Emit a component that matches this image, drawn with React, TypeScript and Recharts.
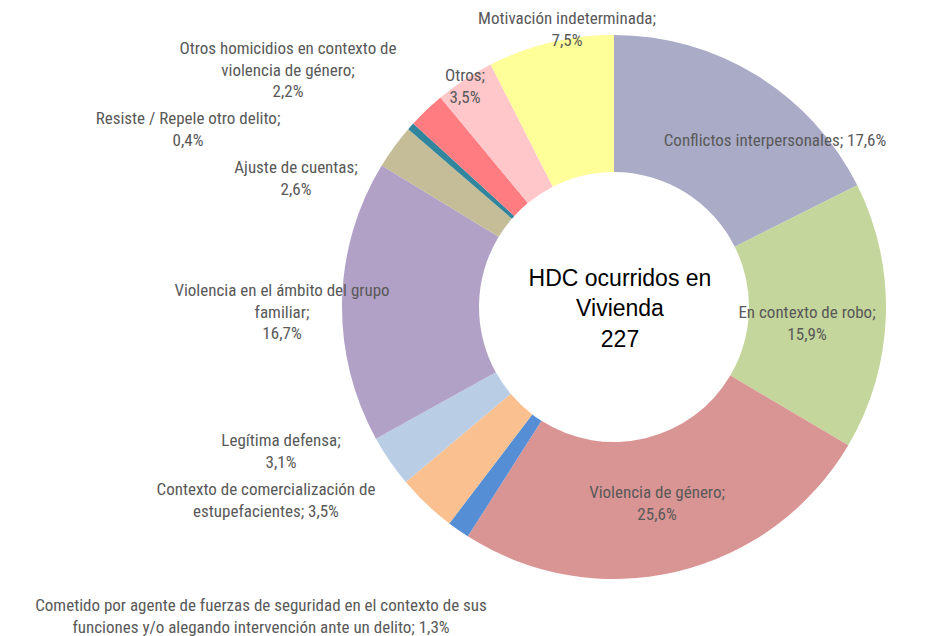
import { PieChart, Pie, Cell } from "recharts";

// HDC ocurridos en vivienda, por motivación (n = 227)
const categories = [
  "Conflictos interpersonales",
  "En contexto de robo",
  "Violencia de género",
  "Cometido por agente de fuerzas de seguridad en el contexto de sus funciones y/o alegando intervención ante un delito",
  "Contexto de comercialización de estupefacientes",
  "Legítima defensa",
  "Violencia en el ámbito del grupo familiar",
  "Ajuste de cuentas",
  "Resiste / Repele otro delito",
  "Otros homicidios en contexto de violencia de género",
  "Otros",
  "Motivación indeterminada",
];
const counts = [40, 36, 58, 3, 8, 7, 38, 6, 1, 5, 8, 17];
const percentLabels = ["17,6%", "15,9%", "25,6%", "1,3%", "3,5%", "3,1%", "16,7%", "2,6%", "0,4%", "2,2%", "3,5%", "7,5%"];
const total = 227;

// how each label wraps (last line carries the percentage)
const labelLines = [
  ["Conflictos interpersonales; 17,6%"],
  ["En contexto de robo;", "15,9%"],
  ["Violencia de género;", "25,6%"],
  ["Cometido por agente de fuerzas de seguridad en el contexto de sus", "funciones y/o alegando intervención ante un delito; 1,3%"],
  ["Contexto de comercialización de", "estupefacientes; 3,5%"],
  ["Legítima defensa;", "3,1%"],
  ["Violencia en el ámbito del grupo", "familiar;", "16,7%"],
  ["Ajuste de cuentas;", "2,6%"],
  ["Resiste / Repele otro delito;", "0,4%"],
  ["Otros homicidios en contexto de", "violencia de género;", "2,2%"],
  ["Otros;", "3,5%"],
  ["Motivación indeterminada;", "7,5%"],
];

const colors = [
  "#A9ABC7", "#C4D69B", "#D99594", "#558ED5", "#FAC08F", "#B9CDE5",
  "#B2A1C7", "#C4BD97", "#31859C", "#FF7C80", "#FFC7C9", "#FFFF99",
];

// label block placement relative to pie centre (layout only)
const labelOffsets: [number, number][] = [
  [161, -167], [193, 5], [43, 185], [-353, 298], [-348, 182], [-333, 133],
  [-332, -17], [-318, -140], [-426, -189], [-326, -259], [-149, -232], [-47, -289],
];

const data = categories.map((name, i) => ({ name, value: counts[i], pct: percentLabels[i] }));

const FONT = "'Liberation Sans Narrow', 'Roboto Condensed', 'Liberation Sans', Arial, sans-serif";
const CENTER_FONT = "'Liberation Sans', Arial, sans-serif";

const renderLabel = (props: any) => {
  const { cx, cy, index } = props;
  const [dx, dy] = labelOffsets[index];
  const x = cx + dx;
  const y = cy + dy;
  return (
    <text
      key={`lbl-${index}`}
      x={x}
      y={y}
      textAnchor="middle"
      fill="#595959"
      fontSize={17}
      fontFamily={FONT}
    >
      {labelLines[index].map((line, j) => (
        <tspan key={j} x={x} y={y + j * 21.5} dominantBaseline="central">
          {line}
        </tspan>
      ))}
    </text>
  );
};

export default function App() {
  // PieChart adds its 5px margin to numeric cx / cy
  const cx = 609;
  const cy = 302;
  const px = cx + 5;
  const py = cy + 5;
  return (
    <div style={{ position: "absolute", left: 0, top: 0, background: "#fff" }}>
      <PieChart width={936} height={636}>
        <Pie
          data={data}
          dataKey="value"
          nameKey="name"
          cx={cx}
          cy={cy}
          innerRadius={135}
          outerRadius={272}
          startAngle={90}
          endAngle={-270}
          stroke="none"
          label={renderLabel}
          labelLine={false}
          isAnimationActive={false}
        >
          {data.map((d, i) => (
            <Cell key={d.name} fill={colors[i]} />
          ))}
        </Pie>
        <text x={px + 6} y={py - 29} textAnchor="middle" dominantBaseline="central" fontSize={23} fontFamily={CENTER_FONT} fill="#000">
          HDC ocurridos en
        </text>
        <text x={px + 6} y={py + 1} textAnchor="middle" dominantBaseline="central" fontSize={23} fontFamily={CENTER_FONT} fill="#000">
          Vivienda
        </text>
        <text x={px + 6} y={py + 32} textAnchor="middle" dominantBaseline="central" fontSize={23} fontFamily={CENTER_FONT} fill="#000">
          {total}
        </text>
      </PieChart>
    </div>
  );
}
